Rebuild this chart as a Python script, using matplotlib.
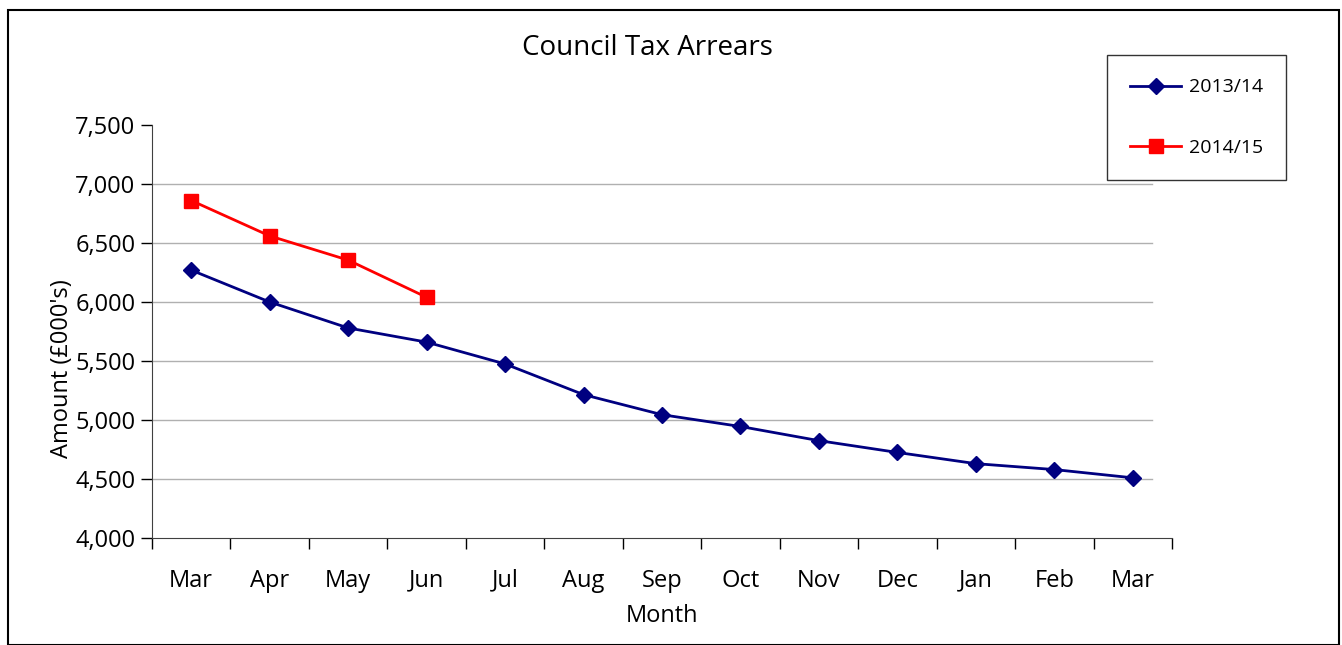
import matplotlib.pyplot as plt
import numpy as np
from matplotlib.patches import Rectangle

plt.rcParams['font.family'] = ['Open Sans', 'DejaVu Sans']

months = ['Mar', 'Apr', 'May', 'Jun', 'Jul', 'Aug', 'Sep', 'Oct', 'Nov', 'Dec', 'Jan', 'Feb', 'Mar']
arrears_1314 = [6270, 6000, 5780, 5660, 5475, 5215, 5045, 4945, 4825, 4725, 4630, 4580, 4510]
arrears_1415 = [6860, 6560, 6355, 6040]

fig = plt.figure(figsize=(13.42, 6.45), dpi=100)
ax = fig.add_axes([152 / 1342, 1 - 538 / 645, 1020 / 1342, 413 / 645])

x = np.arange(len(months))
ax.plot(x, arrears_1314, color='#000080', lw=2, marker='D', ms=8, label='2013/14')
ax.plot(x[:len(arrears_1415)], arrears_1415, color='#ff0000', lw=2, marker='s', ms=10,
        label='2014/15')

ax.set_xlim(-0.5, len(months) - 0.5)
ax.set_ylim(4000, 7500)
ax.set_yticks(np.arange(4000, 7501, 500))
ax.set_yticklabels([f'{v:,}' for v in range(4000, 7501, 500)], fontsize=17)
ax.set_xticks(x)
ax.set_xticklabels(months, fontsize=17)
ax.set_xticks(np.arange(-0.5, len(months)), minor=True)
ax.tick_params(axis='x', which='major', length=0, pad=22)
ax.tick_params(axis='x', which='minor', length=8, width=1, direction='out')
ax.tick_params(axis='y', length=8, width=1, direction='out', pad=4)

for v in range(4500, 7001, 500):
    ax.axhline(v, xmin=0, xmax=0.98, color='#b0b0b0', lw=1, zorder=0)

for s in ['top', 'right']:
    ax.spines[s].set_visible(False)
ax.spines['left'].set_color('#404040')
ax.spines['bottom'].set_color('#404040')

ax.set_xlabel('Month', fontsize=17, labelpad=8)
ax.set_ylabel("Amount (£000's)", fontsize=17)
ax.yaxis.set_label_coords(-0.076, 0.41)

fig.text(647 / 1342, 1 - 48 / 645, 'Council Tax Arrears', ha='center', va='center', fontsize=20)

leg = fig.legend(loc='upper left', bbox_to_anchor=(1107 / 1342, 1 - 55 / 645), fontsize=14,
                 frameon=True, fancybox=False, edgecolor='black', borderpad=1.2,
                 labelspacing=2.2, handlelength=2.6, handletextpad=0.4, borderaxespad=0)
leg.get_frame().set_linewidth(1)

fig.patches.append(Rectangle((8 / 1342, 0), 1331 / 1342, 1 - 10 / 645, transform=fig.transFigure,
                             fill=False, edgecolor='black', lw=1.5))

fig.savefig('out.png', dpi=100)
